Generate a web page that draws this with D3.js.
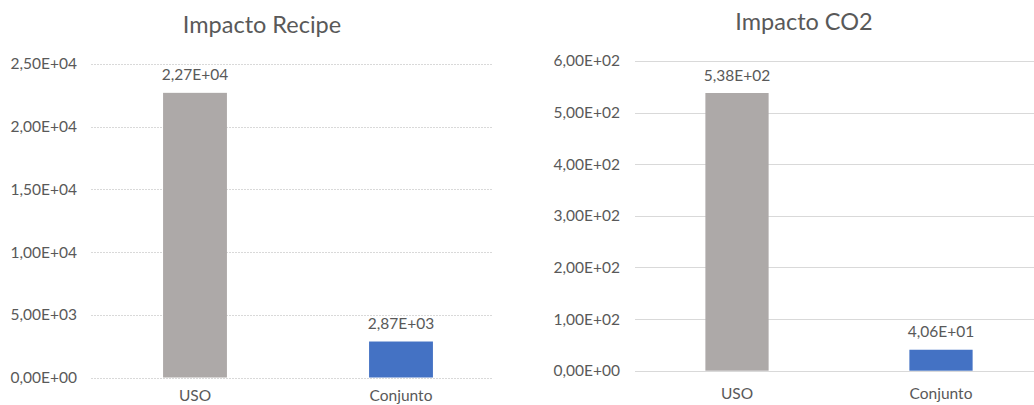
<!DOCTYPE html>
<html><head><meta charset="utf-8">
<script src="https://cdn.jsdelivr.net/npm/d3@7"></script>
<style>
html,body{margin:0;padding:0;background:#fff;}
svg{display:block;}
text{font-family:Lato,"Open Sans",sans-serif;fill:#595959;}
</style></head>
<body>
<svg id="c" width="1034" height="405"></svg>
<script>
const categories = ["USO", "Conjunto"];
const recipeValues = [22700, 2870];
const recipeLabels = ["2,27E+04", "2,87E+03"];
const recipeTicks = [0, 5000, 10000, 15000, 20000, 25000];
const recipeTickLabels = ["0,00E+00", "5,00E+03", "1,00E+04", "1,50E+04", "2,00E+04", "2,50E+04"];
const co2Values = [538, 40.6];
const co2Labels = ["5,38E+02", "4,06E+01"];
const co2Ticks = [0, 100, 200, 300, 400, 500, 600];
const co2TickLabels = ["0,00E+00", "1,00E+02", "2,00E+02", "3,00E+02", "4,00E+02", "5,00E+02", "6,00E+02"];
const barColors = ["#ADA9A8", "#4472C4"];

const svg = d3.select("#c");
const FS = 15.5;

function drawChart(cfg) {
  const g = svg.append("g");
  const x = d3.scaleBand().domain(categories).range([cfg.x0, cfg.x1]).paddingInner(0.69).paddingOuter(0.345);
  const y = d3.scaleLinear().domain([0, cfg.max]).range([cfg.y0, cfg.y1]);

  // gridlines
  g.selectAll(".grid").data(cfg.ticks).join("line")
    .attr("x1", cfg.gx0).attr("x2", cfg.gx1)
    .attr("y1", d => Math.round(y(d)) + 0.5).attr("y2", d => Math.round(y(d)) + 0.5)
    .attr("stroke", "#D9D9D9").attr("stroke-width", 1)
    .attr("stroke-dasharray", cfg.dashed ? "2,1" : null);

  // y axis labels
  const yAxis = d3.axisLeft(y).tickValues(cfg.ticks)
    .tickFormat((d, i) => cfg.tickLabels[i]).tickSize(0).tickPadding(0);
  const ya = g.append("g").attr("transform", `translate(${cfg.labelRight},0)`).call(yAxis);
  ya.select(".domain").remove();
  ya.selectAll("text").attr("font-family", "Lato").attr("font-size", FS).attr("fill", "#595959");

  // bars
  g.selectAll(".bar").data(cfg.values).join("rect")
    .attr("x", (d, i) => x(categories[i]))
    .attr("width", x.bandwidth())
    .attr("y", d => y(d))
    .attr("height", d => y(0) - y(d))
    .attr("fill", (d, i) => barColors[i]);

  // data labels
  g.selectAll(".dl").data(cfg.values).join("text")
    .attr("x", (d, i) => x(categories[i]) + x.bandwidth() / 2)
    .attr("y", d => y(d) - 12.5)
    .attr("text-anchor", "middle")
    .attr("font-size", FS)
    .text((d, i) => cfg.labels[i]);

  // x axis labels
  const xAxis = d3.axisBottom(x).tickSize(0).tickPadding(0);
  const xa = g.append("g").attr("transform", `translate(0,${cfg.xLabelY})`).call(xAxis);
  xa.select(".domain").remove();
  xa.selectAll("text").attr("font-family", "Lato").attr("font-size", FS).attr("fill", "#595959");

  // title
  g.append("text").attr("x", cfg.titleX).attr("y", cfg.titleY)
    .attr("text-anchor", "middle").attr("font-size", 23.5)
    .text(cfg.title);
}

drawChart({
  title: "Impacto Recipe", titleX: 262, titleY: 33,
  values: recipeValues, labels: recipeLabels, ticks: recipeTicks, tickLabels: recipeTickLabels,
  max: 25000, x0: 92, x1: 504, gx0: 91, gx1: 493, y0: 377.5, y1: 64,
  labelRight: 77, xLabelY: 389.5, dashed: true
});
drawChart({
  title: "Impacto CO2", titleX: 804, titleY: 30,
  values: co2Values, labels: co2Labels, ticks: co2Ticks, tickLabels: co2TickLabels,
  max: 600, x0: 635, x1: 1043, gx0: 635, gx1: 1034, y0: 370.7, y1: 61,
  labelRight: 620, xLabelY: 388, dashed: false
});
</script>
</body></html>
